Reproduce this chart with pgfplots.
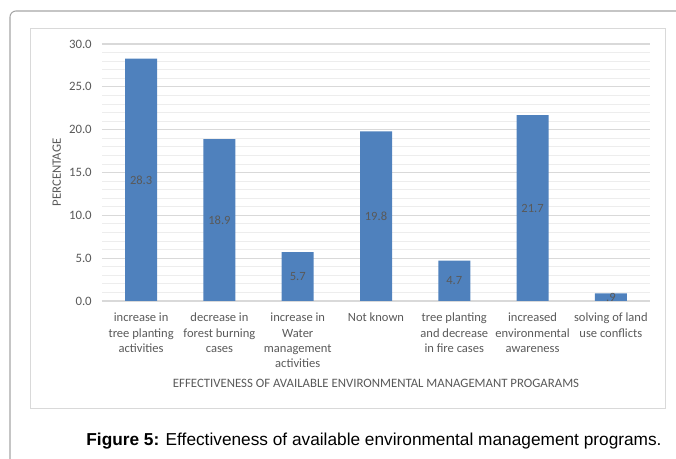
\documentclass[border=0pt]{standalone}
\usepackage{pgfplots}
\pgfplotsset{compat=1.18}
\usepackage{fontspec}
\setmainfont{Carlito}
\newfontfamily\capfont{Liberation Sans}
\definecolor{barblue}{HTML}{4F81BD}
\definecolor{txtgray}{HTML}{595959}
\definecolor{gridmaj}{HTML}{D9D9D9}
\definecolor{gridmin}{HTML}{EDEDED}
\definecolor{framegray}{HTML}{A6A6A6}
\begin{document}
\begin{tikzpicture}
\useasboundingbox (0,0) rectangle (507pt,344.25pt);
% outer frame and chart area
\draw[framegray, line width=0.8pt, rounded corners=4.5pt] (7.5pt,-2pt) -- (7.5pt,336pt) -- (512pt,336pt);
\draw[gridmaj, line width=0.75pt] (22.5pt,37.5pt) rectangle (498.75pt,322.5pt);
\begin{axis}[
  at={(76.5pt,118.5pt)}, anchor=south west,
  scale only axis, width=411pt, height=192.75pt,
  ybar, bar width=24pt,
  xmin=-0.5, xmax=6.5, ymin=0, ymax=30,
  xtick={0,...,6},
  xticklabels={
    {increase in\\tree planting\\activities},
    {decrease in\\forest burning\\cases},
    {increase in\\Water\\management\\activities},
    {Not known},
    {tree planting\\and decrease\\in fire cases},
    {increased\\environmental\\awareness},
    {solving of land\\use conflicts}},
  ytick={0,5,...,30},
  minor y tick num=4,
  major tick length=0pt, minor tick length=0pt,
  ymajorgrids, yminorgrids,
  major grid style={gridmaj, line width=0.9pt},
  minor grid style={gridmin, line width=0.6pt},
  axis line style={draw=none},
  /pgf/number format/.cd, fixed, fixed zerofill, precision=1, assume math mode=true,
  /pgfplots/.cd,
  yticklabel style={font=\fontsize{9.6}{11}\selectfont, text=txtgray, inner sep=0pt, anchor=east, xshift=-7.5pt},
  xticklabel style={font=\fontsize{9.4}{11.5}\selectfont, text=txtgray, align=center, inner sep=0pt, anchor=north, yshift=-9pt},
  ylabel={PERCENTAGE},
  ylabel style={font=\fontsize{9.6}{11}\selectfont, text=txtgray, at={(axis description cs:-0.0824,0.5)}, anchor=center},
  xlabel={EFFECTIVENESS OF AVAILABLE ENVIRONMENTAL MANAGEMANT PROGARAMS},
  xlabel style={font=\fontsize{9.6}{11}\selectfont, text=txtgray, at={(axis description cs:0.5,0)}, anchor=center, yshift=-61.5pt},
]
\addplot[fill=barblue, draw=none,
  point meta=explicit symbolic,
  nodes near coords={\pgfplotspointmeta},
  visualization depends on={y \as \rawy},
  every node near coord/.append style={anchor=center, inner sep=0pt,
    font=\fontsize{9.4}{11}\selectfont, text=txtgray,
    shift={(axis direction cs:0,-\rawy/2)}},
] coordinates {
  (0,28.3) [28.3]
  (1,18.9) [18.9]
  (2,5.7) [5.7]
  (3,19.8) [19.8]
  (4,4.7) [4.7]
  (5,21.7) [21.7]
  (6,0.9) [.9]
};
\end{axis}
\node[font=\capfont\fontsize{12.95}{15}\selectfont, anchor=center] at (280.5pt,13.5pt)
  {\textbf{Figure 5:} Effectiveness of available environmental management programs.};
\end{tikzpicture}
\end{document}
